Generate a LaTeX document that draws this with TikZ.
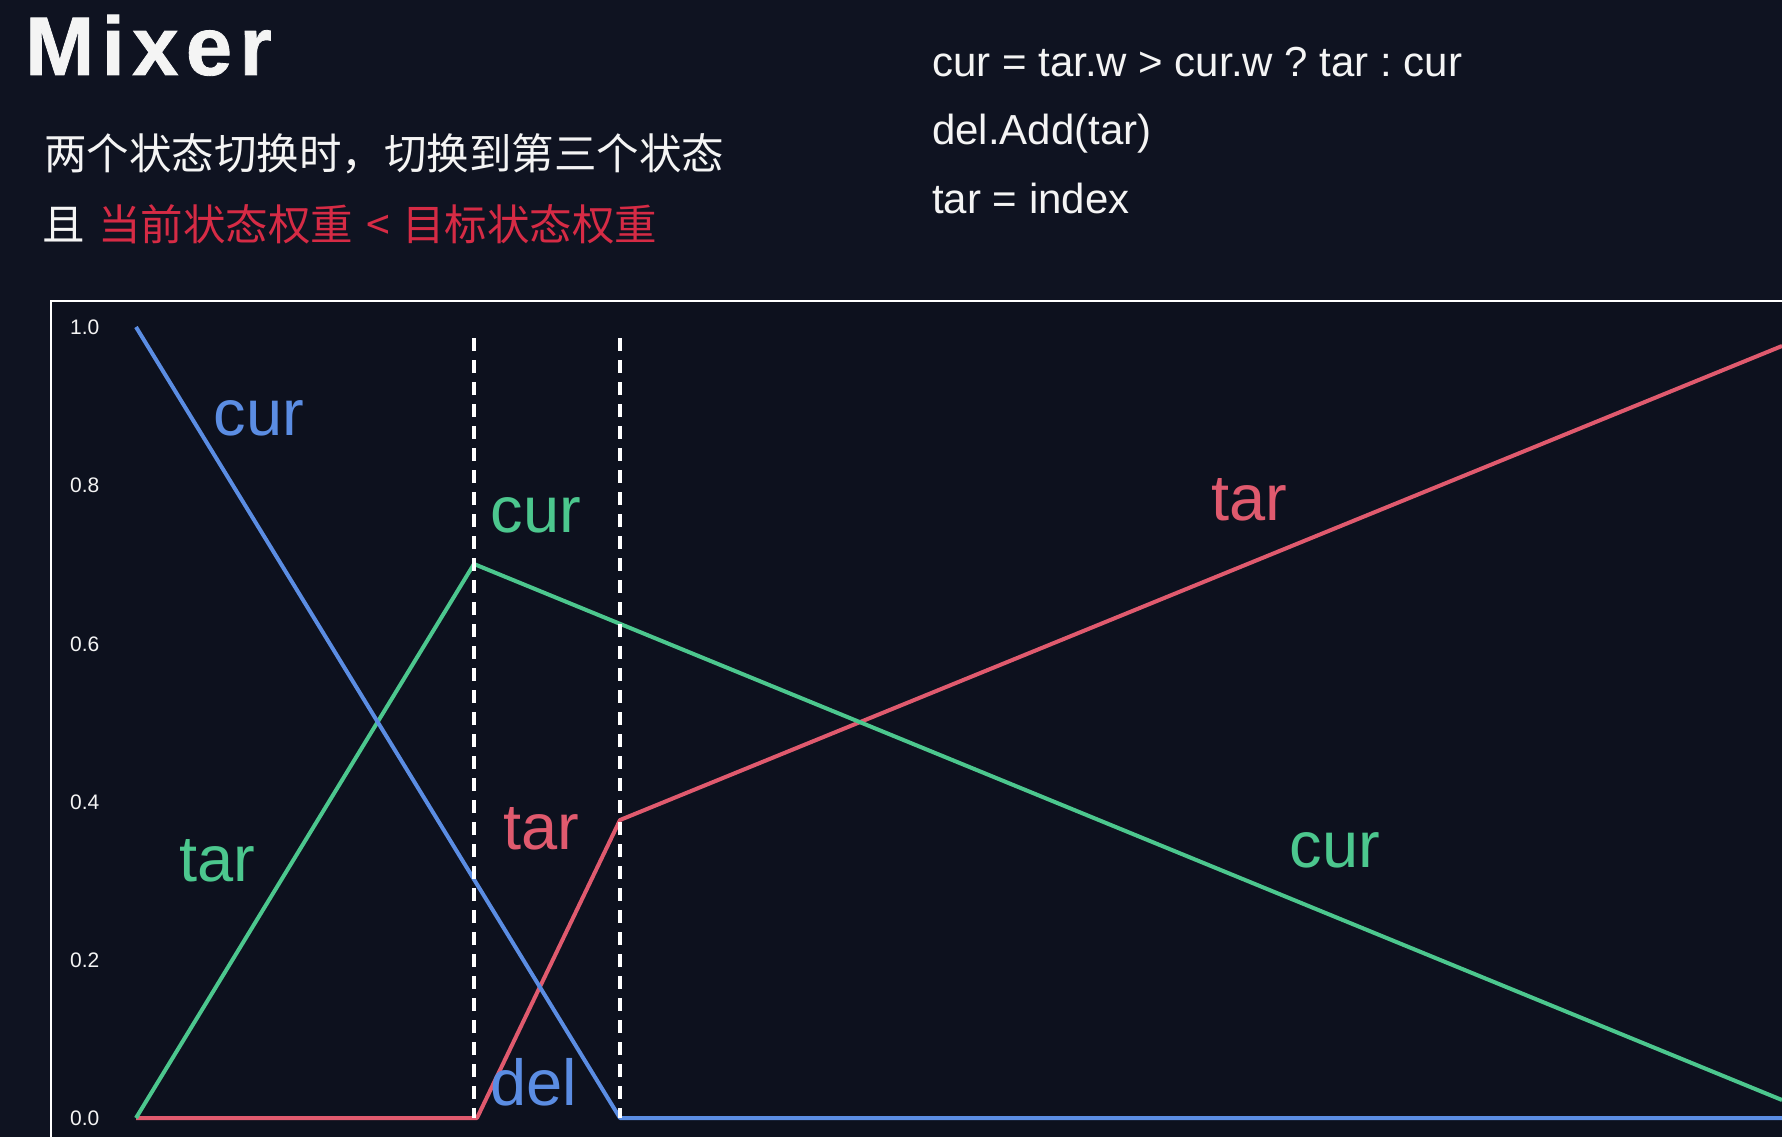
\documentclass[tikz,border=0pt]{standalone}
\usepackage{fontspec}
\setmainfont{Liberation Sans}
\newfontfamily\cjk{Noto Sans CJK SC}
\newfontfamily\titlefont[LetterSpace=9,BoldFeatures={FakeBold=1}]{Liberation Sans}
\definecolor{bgc}{HTML}{0F1321}
\definecolor{plotbg}{HTML}{0D111E}
\definecolor{cblue}{HTML}{5B8DE3}
\definecolor{cgreen}{HTML}{4CC78E}
\definecolor{cred}{HTML}{E05A6E}
\definecolor{cjkred}{HTML}{D62B45}
\definecolor{txt}{HTML}{F4F4F4}
\tikzset{
  txtnode/.style={inner sep=0pt, anchor=base west, text=txt},
  ticklbl/.style={inner sep=0pt, anchor=west, text=txt, font=\fontsize{21}{24}\selectfont},
  curvelbl/.style={inner sep=0pt, anchor=base, font=\fontsize{65}{70}\selectfont},
  curve/.style={line width=4pt, line join=round},
  divider/.style={white, line width=3.5pt, dash pattern=on 13pt off 9pt},
}
\begin{document}
\frenchspacing
\begin{tikzpicture}[x=1pt,y=-1pt]
\useasboundingbox (0,0) rectangle (1782,1137);
\fill[bgc] (0,0) rectangle (1782,1137);
\fill[plotbg] (51,301) rectangle (1782,1137);
\draw[white, line width=2pt] (1790,301) -- (51,301) -- (51,1145);

% header texts
\node[txtnode, font=\titlefont\bfseries\fontsize{83}{90}\selectfont] (title) at (25,75) {Mixer};
\node[txtnode, font=\cjk\fontsize{42.5}{48}\selectfont] (line1) at (44,169) {两个状态切换时，切换到第三个状态};
\node[txtnode, font=\cjk\fontsize{42.5}{48}\selectfont] (line2) at (42,240) {且\hspace{0.32em}\textcolor{cjkred}{当前状态权重\hspace{0.3em}<\hspace{0.3em}目标状态权重}};
\node[txtnode, font=\fontsize{42}{48}\selectfont] (code1) at (932,77) {cur = tar.w > cur.w ? tar : cur};
\node[txtnode, font=\fontsize{42}{48}\selectfont] (code2) at (932,145) {del.Add(tar)};
\node[txtnode, font=\fontsize{42}{48}\selectfont] (code3) at (932,213) {tar = index};

% tick labels
\node[ticklbl] (t10) at (70,327) {1.0};
\node[ticklbl] (t08) at (70,485) {0.8};
\node[ticklbl] (t06) at (70,644) {0.6};
\node[ticklbl] (t04) at (70,802) {0.4};
\node[ticklbl] (t02) at (70,960) {0.2};
\node[ticklbl] (t00) at (70,1118) {0.0};

% key points
\coordinate (b0) at (136,327);
\coordinate (b1) at (620,1118);
\coordinate (b2) at (1790,1118);
\coordinate (g0) at (136,1118);
\coordinate (g1) at (474,564);
\coordinate (g2) at (1782,1100);
\coordinate (r0) at (136,1118);
\coordinate (r1) at (477,1118);
\coordinate (r2) at (620,820);
\coordinate (r3) at (1782,346);
\coordinate (d1t) at (474,338);
\coordinate (d1b) at (474,1118);
\coordinate (d2t) at (620,338);
\coordinate (d2b) at (620,1118);

% curves
\draw[curve, cred] (r0) -- (r1) -- (r2) -- (r3);
\draw[curve, cgreen] (g0) -- (g1) -- (g2);
\draw[curve, cblue] (b0) -- (b1) -- (b2);

% dividers
\draw[divider] (d1t) -- (d1b);
\draw[divider] (d2t) -- (d2b);

% curve labels
\node[curvelbl, text=cblue] (lcur1) at (259,435) {cur};
\node[curvelbl, text=cgreen] (lcur2) at (536,532) {cur};
\node[curvelbl, text=cgreen] (ltar1) at (217,881) {tar};
\node[curvelbl, text=cred] (ltar2) at (541,849) {tar};
\node[curvelbl, text=cblue] (ldel) at (534,1105) {del};
\node[curvelbl, text=cred] (ltar3) at (1249,520) {tar};
\node[curvelbl, text=cgreen] (lcur3) at (1335,867) {cur};
\end{tikzpicture}
\end{document}
